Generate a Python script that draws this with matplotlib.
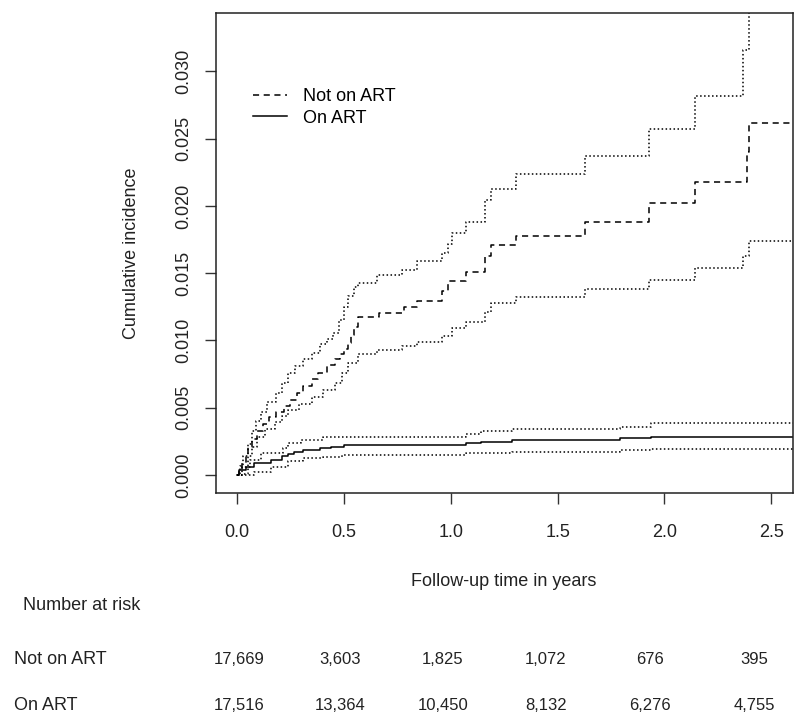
import matplotlib
matplotlib.use("Agg")
import matplotlib.pyplot as plt
from matplotlib.lines import Line2D

plt.rcParams['font.family'] = ['Liberation Sans', 'DejaVu Sans']

# ---------------- data ----------------
# Not on ART: cumulative incidence estimate (step changes)
not_t = [0.0, 0.01, 0.025, 0.04, 0.05, 0.07, 0.095, 0.12, 0.15, 0.18, 0.22, 0.25, 0.28, 0.31,
         0.35, 0.38, 0.42, 0.456, 0.48, 0.50, 0.52, 0.535, 0.547, 0.565, 0.664, 0.78, 0.844,
         0.961, 0.988, 1.07, 1.159, 1.19, 1.307, 1.628, 1.926, 2.142, 2.385, 2.394, 2.6]
not_est = [0.0, 0.0004, 0.0009, 0.0015, 0.0021, 0.0027, 0.0033, 0.0038, 0.0043, 0.0047, 0.0051,
           0.0056, 0.0061, 0.0066, 0.0071, 0.0076, 0.0082, 0.0086, 0.0090, 0.0094, 0.0098, 0.0104,
           0.0110, 0.01173, 0.01203, 0.01245, 0.01295, 0.0137, 0.01443, 0.01508, 0.0163, 0.01706,
           0.0178, 0.01877, 0.0202, 0.02175, 0.0240, 0.0262, 0.0262]

not_up_t = [0.0, 0.015, 0.03, 0.05, 0.07, 0.09, 0.11, 0.14, 0.18, 0.21, 0.24, 0.27, 0.31, 0.35,
            0.39, 0.42, 0.45, 0.475, 0.50, 0.52, 0.547, 0.565, 0.655, 0.772, 0.844, 0.961, 0.988,
            1.006, 1.07, 1.159, 1.19, 1.307, 1.628, 1.926, 2.142, 2.367, 2.394, 2.6]
not_up = [0.0, 0.0007, 0.0014, 0.0023, 0.0033, 0.0040, 0.0047, 0.0054, 0.0061, 0.0068, 0.0076,
          0.0081, 0.0086, 0.00905, 0.0097, 0.0101, 0.01054, 0.0115, 0.01252, 0.0133, 0.0140,
          0.0143, 0.01483, 0.01525, 0.0159, 0.0165, 0.0172, 0.01798, 0.01877, 0.02046, 0.02128,
          0.02237, 0.0237, 0.0257, 0.0282, 0.0316, 0.0365, 0.0365]

not_lo_t = [0.0, 0.03, 0.05, 0.07, 0.095, 0.13, 0.177, 0.21, 0.24, 0.29, 0.35, 0.40, 0.46, 0.49,
            0.52, 0.565, 0.655, 0.772, 0.844, 0.961, 1.006, 1.07, 1.159, 1.19, 1.307, 1.628,
            1.926, 2.142, 2.367, 2.394, 2.6]
not_lo = [0.0, 0.0001, 0.0014, 0.0021, 0.00285, 0.0034, 0.0039, 0.0044, 0.00484, 0.0053, 0.00583,
          0.0063, 0.0068, 0.0076, 0.0083, 0.00898, 0.0093, 0.00955, 0.00992, 0.0103, 0.01096,
          0.0114, 0.01215, 0.01277, 0.0132, 0.01384, 0.0145, 0.01538, 0.01625, 0.01736, 0.01736]

# On ART
on_t = [0.0, 0.01, 0.04, 0.08, 0.16, 0.21, 0.24, 0.268, 0.31, 0.39, 0.44, 0.50, 1.07, 1.14,
        1.285, 1.79, 1.935, 2.6]
on_est = [0.0, 0.0004, 0.0006, 0.00087, 0.0011, 0.0014, 0.00156, 0.00173, 0.00186, 0.00198,
          0.0021, 0.00223, 0.00236, 0.00248, 0.0026, 0.00273, 0.00285, 0.00285]

on_up_t = [0.0, 0.024, 0.06, 0.114, 0.214, 0.24, 0.30, 0.40, 1.07, 1.14, 1.285, 1.79, 1.935, 2.6]
on_up = [0.0, 0.0006, 0.0011, 0.00161, 0.00198, 0.00236, 0.0026, 0.00285, 0.00305, 0.00325,
         0.00342, 0.0036, 0.00385, 0.00385]

on_lo_t = [0.0, 0.078, 0.16, 0.24, 0.31, 0.40, 0.49, 1.07, 1.285, 1.79, 1.935, 2.6]
on_lo = [0.0, 0.00025, 0.00057, 0.001, 0.00124, 0.00136, 0.00149, 0.00161, 0.00173, 0.00186,
         0.00193, 0.00193]

x_ticks = [0.0, 0.5, 1.0, 1.5, 2.0, 2.5]
y_ticks = [0.000, 0.005, 0.010, 0.015, 0.020, 0.025, 0.030]

legend_labels = ["Not on ART", "On ART"]
risk_groups = ["Not on ART", "On ART"]
risk_not_on_art = ["17,669", "3,603", "1,825", "1,072", "676", "395"]
risk_on_art = ["17,516", "13,364", "10,450", "8,132", "6,276", "4,755"]

# ---------------- figure ----------------
W, H = 800, 728
fig = plt.figure(figsize=(W / 100, H / 100), dpi=100)
ax = fig.add_axes([215.7 / W, 1 - 492.7 / H, (792.7 - 215.7) / W, (492.7 - 13.3) / H])

lw = 1.1
dash = (0, (4, 3))
dot = (0, (1, 1.6))

ax.step(not_t, not_est, where='post', color='black', lw=lw, linestyle=dash)
ax.step(not_up_t, not_up, where='post', color='black', lw=lw, linestyle=dot)
ax.step(not_lo_t, not_lo, where='post', color='black', lw=lw, linestyle=dot)
ax.step(on_t, on_est, where='post', color='black', lw=lw, linestyle='-')
ax.step(on_up_t, on_up, where='post', color='black', lw=lw, linestyle=dot)
ax.step(on_lo_t, on_lo, where='post', color='black', lw=lw, linestyle=dot)

ax.set_xlim(-0.1, 2.6)
ax.set_ylim(-0.00132, 0.03432)
ax.set_xticks(x_ticks)
ax.set_xticklabels([f"{v:.1f}" for v in x_ticks])
ax.set_yticks(y_ticks)
ax.set_yticklabels([f"{v:.3f}" for v in y_ticks], rotation=90, va='center')
ax.tick_params(axis='both', direction='out', length=8, width=1, colors='#333333',
               labelsize=13, labelcolor='#222222')
ax.tick_params(axis='x', pad=14.5)
ax.tick_params(axis='y', pad=9)
for s in ax.spines.values():
    s.set_linewidth(1.1)
    s.set_color('#222222')

handles = [Line2D([], [], color='black', lw=lw, linestyle=dash),
           Line2D([], [], color='black', lw=lw, linestyle='-')]
ax.legend(handles, legend_labels, loc='upper left', frameon=False, fontsize=13,
          handlelength=1.9, handletextpad=0.85, labelspacing=0.25, borderpad=0,
          borderaxespad=0, bbox_to_anchor=(253 / W, 1 - 88 / H),
          bbox_transform=fig.transFigure)

fig.text(132 / W, 1 - 253 / H, "Cumulative incidence", rotation=90, ha='center',
         va='center', fontsize=13, color='#222222')
fig.text(504 / W, 1 - 581 / H, "Follow-up time in years", ha='center', va='center',
         fontsize=13, color='#222222')

# number at risk table
fig.text(23 / W, 1 - 606 / H, "Number at risk", ha='left', va='center', fontsize=13,
         color='#222222')
col_x = [239, 340, 443, 546, 650, 754]
row_y = [660, 706]
for gi, (grp, vals) in enumerate(zip(risk_groups, [risk_not_on_art, risk_on_art])):
    fig.text(14 / W, 1 - row_y[gi] / H, grp, ha='left', va='center', fontsize=13,
             color='#222222')
    for xi, v in zip(col_x, vals):
        fig.text(xi / W, 1 - row_y[gi] / H, v, ha='center', va='center', fontsize=12,
                 color='#222222')

fig.savefig("out.png", dpi=100)
